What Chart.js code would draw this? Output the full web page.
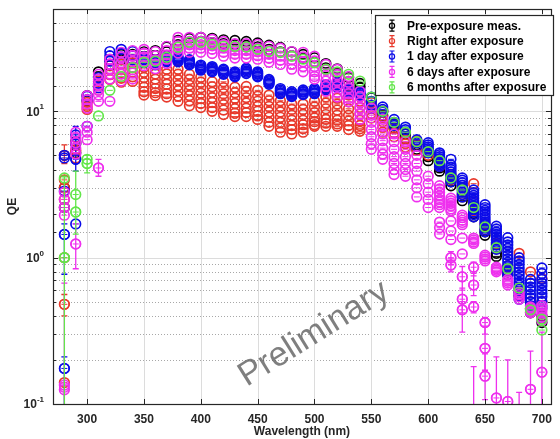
<!DOCTYPE html>
<html>
<head>
<meta charset="utf-8">
<title>QE vs wavelength</title>
<script src="https://cdn.jsdelivr.net/npm/chart.js@4.4.1/dist/chart.umd.min.js"></script>
<style>
  html, body { margin: 0; padding: 0; background: #fff; }
  #wrap { width: 560px; height: 439px; position: relative; }
</style>
</head>
<body>
<div id="wrap"><canvas id="qeChart"></canvas></div>
<script>
// Wavelengths (nm) of the measurement points
const wavelengths = [280, 290, 300, 310, 320, 330, 340, 350, 360, 370, 380, 390, 400, 410, 420,
  430, 440, 450, 460, 470, 480, 490, 500, 510, 520, 530, 540, 550, 560, 570, 580, 590, 600,
  610, 620, 630, 640, 650, 660, 670, 680, 690, 700];

const xTicks = [300, 350, 400, 450, 500, 550, 600, 650, 700];

// QE readings, one list of repeated measurements per wavelength
const preExposure = [
  [3.0, 2.2], [6.2, 5.2], [12.8, 11.8], [18.6, 17.2], [22.5, 20.5], [24.5, 22.5], [24.5, 22.5],
  [25.5, 23.5], [26.0, 24.0], [27.5, 25.5], [30.5, 28.5], [31.5, 29.5], [32.0, 30.0], [31.5, 29.5],
  [30.8, 29.0], [30.5, 28.7], [30.0, 28.3], [29.3, 27.5], [28.3, 26.5], [27.3, 25.5], [25.5, 24.0],
  [24.5, 23.0], [23.2, 21.8], [21.2, 19.8], [19.5, 18.2], [17.0, 16.0], [15.5, 14.6], [12.4, 11.6],
  [10.0, 9.4], [8.2, 7.7], [7.0, 6.5], [5.9, 5.5], [4.9, 4.6], [4.1, 3.9], [3.3, 3.1], [2.6, 2.45],
  [2.0, 1.9], [1.5, 1.42], [1.07, 1.02], [0.8, 0.76], [0.58, 0.55], [0.45, 0.42], [0.4, 0.36]
];

const rightAfter = [
  [5.0, 3.4, 3.0, 2.5, 1.0, 0.48, 0.14], [6.0, 5.4, 4.8], [11.5, 10.8, 10.3], [16.0, 15.0, 14.0],
  [21.0, 19.3, 17.8, 16.5], [21.0, 19.5, 18.0, 16.8, 15.8], [21.5, 20.0, 18.5, 17.2, 16.0],
  [20.0, 18.5, 17.0, 15.7, 14.6, 13.6, 12.9], [19.4, 18.0, 16.6, 15.4, 14.3, 13.4, 12.8],
  [19.4, 18.0, 16.5, 15.3, 14.2, 13.2, 12.5], [19.4, 17.9, 16.4, 15.0, 13.8, 12.7, 11.7],
  [17.9, 16.5, 15.1, 13.9, 12.8, 11.8, 10.9], [17.1, 15.8, 14.5, 13.3, 12.2, 11.3, 10.6],
  [15.9, 14.7, 13.5, 12.4, 11.5, 10.6, 10.0], [15.9, 14.5, 13.2, 12.1, 11.1, 10.2, 9.5],
  [14.6, 13.4, 12.3, 11.3, 10.4, 9.7, 9.2], [14.8, 13.6, 12.4, 11.4, 10.5, 9.8, 9.2],
  [13.9, 12.7, 11.7, 10.8, 10.0, 9.3, 8.8], [12.9, 11.8, 10.8, 9.9, 9.1, 8.4, 7.9],
  [11.8, 10.8, 9.9, 9.1, 8.4, 7.7, 7.2], [11.2, 10.3, 9.4, 8.7, 8.0, 7.5, 7.0],
  [11.2, 10.3, 9.5, 8.7, 8.1, 7.6, 7.2], [11.7, 10.7, 9.8, 9.0, 8.5, 8.1, 7.9],
  [12.5, 11.4, 10.4, 9.5, 8.8, 8.3, 7.9], [12.3, 11.2, 10.2, 9.4, 8.7, 8.2, 7.9],
  [12.9, 11.6, 10.4, 9.4, 8.6, 8.0, 7.5], [11.7, 10.6, 9.6, 8.7, 8.0, 7.6, 7.3],
  [11.5, 10.6, 9.7, 9.0], [10.0, 9.2, 8.5, 7.8, 7.2], [7.6, 7.1, 6.7], [6.4, 6.0, 5.7],
  [6.3, 5.8, 5.4], [5.3, 5.0], [4.5, 4.2], [3.7, 3.4], [3.0, 2.7], [3.2, 2.4, 2.1],
  [1.7, 1.55], [1.25, 1.15], [0.88, 0.8], [1.07, 0.62], [0.8, 0.5, 0.45], [0.72, 0.5]
];

const oneDay = [
  [5.0, 4.8, 2.85, 1.44, 0.175], [6.9, 6.0, 4.7, 1.7], [12.7, 12.0, 7.9], [17.0, 15.5, 14.5],
  [25.6, 24.0, 22.0], [26.5, 25.0, 23.5], [25.6, 24.0, 22.5],
  [23.5, 23.0, 22.5, 22.0, 21.5], [22.5, 22.0, 21.6, 21.2, 20.8], [23.6, 23.1, 22.7, 22.2, 21.8],
  [23.6, 23.1, 22.7, 22.2, 21.8], [22.5, 22.0, 21.6, 21.2, 20.8], [20.7, 20.3, 19.9, 19.5, 19.1],
  [20.2, 19.8, 19.4, 19.0, 18.6], [19.4, 19.0, 18.6, 18.2, 17.9], [18.6, 18.2, 17.9, 17.5, 17.2],
  [19.7, 19.3, 18.9, 18.5, 18.1], [18.6, 18.2, 17.9, 17.5, 17.2], [16.5, 16.2, 15.9, 15.6, 15.3],
  [14.3, 14.0, 13.7, 13.4, 13.2], [13.6, 13.3, 13.1, 12.8, 12.6], [14.0, 13.7, 13.5, 13.2, 13.0],
  [14.3, 14.0, 13.7, 13.4, 13.2], [15.2, 14.9, 14.6, 14.3, 14.0], [15.8, 15.5, 15.2, 14.9, 14.6],
  [14.3, 14.0, 13.7, 13.4, 13.2], [13.8, 13.5, 13.3, 13.0, 12.8], [12.5, 11.7, 11.0, 10.5],
  [10.7, 10.3, 9.9], [8.8, 8.4, 8.0], [7.8, 7.5, 7.2], [6.4, 6.1, 5.8],
  [6.1, 5.9, 5.7, 5.55, 5.4, 5.3, 5.2],
  [5.2, 5.05, 4.9, 4.75, 4.6, 4.5, 4.4, 4.3, 4.2],
  [4.7, 4.3, 4.15, 4.0, 3.85, 3.7, 3.6, 3.45, 3.3],
  [3.5, 3.38, 3.25, 3.12, 3.0, 2.9, 2.8, 2.7, 2.6],
  [2.9, 2.78, 2.66, 2.55, 2.45, 2.35, 2.25, 2.15, 2.05, 1.97, 1.9],
  [2.3, 2.2, 2.1, 2.0, 1.9, 1.82, 1.75, 1.68, 1.6, 1.55, 1.5],
  [1.64, 1.57, 1.5, 1.44, 1.38, 1.32, 1.27, 1.22, 1.18, 1.14],
  [1.37, 1.28, 1.22, 1.16, 1.1, 1.04, 0.98, 0.93, 0.88, 0.84, 0.8, 0.76],
  [1.0, 0.95, 0.9, 0.85, 0.8, 0.76, 0.72, 0.68, 0.65, 0.61, 0.58, 0.55, 0.52],
  [0.71, 0.67, 0.63, 0.6, 0.56, 0.53, 0.5, 0.47, 0.44],
  [0.85, 0.78, 0.71, 0.67, 0.64, 0.6, 0.57, 0.54, 0.5, 0.47, 0.45]
];

const sixDays = [
  [2.8, 2.5, 2.2, 1.95, 0.135, 0.125], [7.2, 6.6, 6.1, 5.6, 5.1, 1.24],
  [12.8, 12.0, 11.2, 10.5, 7.9, 7.2, 6.4], [17.9, 16.5, 15.2, 14.0, 12.9, 11.7, 4.1],
  [22.7, 21.0, 19.5, 18.0, 16.6, 11.7], [25.3, 23.5, 21.5, 19.7, 18.0, 16.1],
  [26.0, 24.0, 22.0, 20.0, 18.3, 16.6], [26.5, 25.0, 23.5, 22.0, 20.5], [25.6, 24.0, 22.5, 21.0, 19.5],
  [27.8, 26.0, 24.3, 22.7, 21.2], [32.0, 30.0, 28.0, 26.5, 25.0], [32.0, 30.0, 28.5, 27.0, 25.3],
  [32.0, 30.0, 28.5, 27.0, 25.3], [31.0, 29.5, 28.0, 26.5, 24.8], [30.0, 28.5, 27.0, 25.3, 23.8],
  [29.0, 27.5, 26.0, 24.5, 23.1], [29.0, 27.5, 26.0, 24.5, 23.1], [28.7, 27.0, 25.5, 24.0, 22.7],
  [27.8, 26.0, 24.5, 23.0, 21.6], [27.0, 25.3, 23.8, 22.3, 20.9], [25.6, 24.0, 22.5, 21.0, 19.4],
  [25.3, 23.5, 21.8, 20.2, 18.6], [23.8, 22.0, 20.2, 18.6, 17.3, 16.6],
  [20.9, 19.2, 17.6, 16.1, 14.8, 13.7], [19.4, 17.8, 16.2, 14.8, 13.5, 12.5],
  [17.3, 15.8, 14.4, 13.2, 12.2, 11.6], [13.7, 12.6, 11.5, 10.5, 9.6, 8.8],
  [10.5, 9.4, 8.4, 7.5, 6.7, 6.0, 5.5], [8.8, 7.9, 7.0, 6.3, 5.6, 5.1, 4.7],
  [7.0, 6.2, 5.5, 4.9, 4.4, 4.0, 3.7], [6.2, 5.5, 4.9, 4.4, 4.0, 3.6], [5.0, 4.4, 3.9, 3.4, 3.0, 2.6],
  [3.6, 3.2, 2.8, 2.5, 2.2],
  [3.1, 2.95, 2.8, 2.65, 2.5, 2.4, 2.3, 2.2, 1.75, 1.6, 1.45],
  [2.55, 2.45, 2.35, 2.25, 2.15, 2.08, 1.78, 1.52, 1.33, 1.0, 0.89],
  [1.95, 1.88, 1.8, 1.74, 1.68, 1.36, 1.06, 0.74, 0.52, 0.44],
  [1.36, 1.32, 1.28, 1.25, 0.86, 0.65, 0.46],
  [1.04, 1.01, 0.98, 0.95, 0.36, 0.24, 0.155],
  [0.86, 0.84, 0.82, 0.8, 0.11],
  [0.71, 0.69, 0.67, 0.65, 0.104],
  [0.58, 0.56, 0.54, 0.52],
  [0.46, 0.45, 0.43, 0.42, 0.126],
  [0.47, 0.45, 0.43, 0.41, 0.39, 0.37, 0.165]
];

const sixMonths = [
  [3.5, 1.0], [2.7, 2.05], [4.7, 4.4], [9.3], [13.9], [17.3], [19.9], [21.6], [22.0], [23.4],
  [27.4], [29.6], [29.6], [28.7], [27.8], [27.8], [27.5], [26.5], [25.6], [25.3], [23.8], [22.7],
  [21.5], [19.4], [18.6], [17.9], [16.1], [12.5], [10.0], [8.4], [7.2], [6.2], [5.3], [4.6], [3.5],
  [2.9], [2.2], [1.62], [1.17], [0.84], [0.62], [0.44], [0.38, 0.32]
];

// Visible error bars: [wavelength, value, low, high]
const rightAfterErr = [[280, 5.0, 4.4, 5.9], [280, 0.48, 0.4, 0.56], [290, 5.4, 4.8, 6.2]];
const oneDayErr = [[280, 0.175, 0.02, 0.21], [280, 1.44, 0.77, 1.7], [290, 4.7, 3.9, 7.9]];
const sixDaysErr = [
  [280, 0.13, 0.02, 0.67], [290, 1.24, 0.84, 1.7], [310, 4.1, 3.6, 4.7],
  [620, 1.0, 0.9, 1.1], [620, 0.89, 0.8, 0.98], [630, 0.74, 0.6, 0.87], [630, 0.52, 0.42, 0.62],
  [630, 0.44, 0.31, 0.5], [640, 0.86, 0.75, 0.93], [640, 0.65, 0.55, 0.78], [640, 0.46, 0.42, 0.5],
  [640, 0.08, 0.02, 0.18], [650, 0.36, 0.3, 0.39], [650, 0.24, 0.17, 0.34], [650, 0.155, 0.107, 0.22],
  [660, 0.11, 0.02, 0.21], [670, 0.104, 0.02, 0.2], [680, 0.07, 0.02, 0.12],
  [690, 0.126, 0.02, 0.23], [700, 0.165, 0.02, 0.31]
];
const sixMonthsErr = [[280, 1.0, 0.02, 3.6], [290, 2.05, 1.45, 3.9], [300, 4.4, 3.8, 5.0]];

const seriesNames = ['Pre-exposure meas.', 'Right after exposure', '1 day after exposure',
  '6 days after exposure', '6 months after exposure'];
const seriesColors = ['#000000', '#e8392b', '#0b0be8', '#ee30ee', '#62e64a'];

const FONT = "'Liberation Sans', Arial, Helvetica, sans-serif";

function toPoints(series) {
  const pts = [];
  series.forEach((vals, i) => vals.forEach(v => pts.push({ x: wavelengths[i], y: v })));
  return pts;
}

const allSeries = [preExposure, rightAfter, oneDay, sixDays, sixMonths];
const allErr = [[], rightAfterErr, oneDayErr, sixDaysErr, sixMonthsErr];

// first dataset is drawn on top in Chart.js, so order is set to keep MATLAB's stacking
const datasets = allSeries.map((s, k) => ({
  label: seriesNames[k],
  data: toPoints(s),
  errBars: allErr[k],
  order: 5 - k,
  borderColor: seriesColors[k],
  backgroundColor: 'rgba(0,0,0,0)',
  pointRadius: 4.8,
  pointBorderWidth: 1.7,
  pointStyle: 'circle',
  clip: 0
}));

// grid, inward ticks and box, MATLAB style
const gridPlugin = {
  id: 'gridPlugin',
  beforeDatasetsDraw(chart) {
    const { ctx, chartArea: a, scales: { x, y } } = chart;
    ctx.save();
    ctx.lineWidth = 1;
    y.ticks.forEach(t => {
      const py = Math.round(y.getPixelForValue(t.value)) + 0.5;
      const lg = Math.log10(t.value);
      const major = Math.abs(lg - Math.round(lg)) < 1e-6;
      if (py <= a.top + 1 || py >= a.bottom - 1) return;
      ctx.beginPath();
      if (major) {
        ctx.setLineDash([]);
        ctx.strokeStyle = '#dcdcdc';
      } else {
        ctx.setLineDash([1, 2]);
        ctx.strokeStyle = '#a8a8a8';
      }
      ctx.moveTo(a.left, py);
      ctx.lineTo(a.right, py);
      ctx.stroke();
    });
    ctx.setLineDash([]);
    ctx.strokeStyle = '#dcdcdc';
    x.ticks.forEach(t => {
      const px = Math.round(x.getPixelForValue(t.value)) + 0.5;
      ctx.beginPath();
      ctx.moveTo(px, a.top);
      ctx.lineTo(px, a.bottom);
      ctx.stroke();
    });
    ctx.restore();
  },
  afterDatasetsDraw(chart) {
    const { ctx, chartArea: a, scales: { x, y } } = chart;
    ctx.save();
    ctx.strokeStyle = '#262626';
    ctx.lineWidth = 1;
    y.ticks.forEach(t => {
      const py = Math.round(y.getPixelForValue(t.value)) + 0.5;
      const lg = Math.log10(t.value);
      const len = Math.abs(lg - Math.round(lg)) < 1e-6 ? 5 : 3;
      ctx.beginPath();
      ctx.moveTo(a.left, py); ctx.lineTo(a.left + len, py);
      ctx.moveTo(a.right, py); ctx.lineTo(a.right - len, py);
      ctx.stroke();
    });
    x.ticks.forEach(t => {
      const px = Math.round(x.getPixelForValue(t.value)) + 0.5;
      ctx.beginPath();
      ctx.moveTo(px, a.bottom); ctx.lineTo(px, a.bottom - 5);
      ctx.moveTo(px, a.top); ctx.lineTo(px, a.top + 5);
      ctx.stroke();
    });
    ctx.lineWidth = 1.2;
    ctx.strokeRect(Math.round(a.left) + 0.5, Math.round(a.top) + 0.5,
      Math.round(a.right - a.left), Math.round(a.bottom - a.top));
    ctx.restore();
  }
};

// error bars: tiny caps through each marker plus the visible long ones
const errorBarPlugin = {
  id: 'errorBarPlugin',
  afterDatasetDraw(chart, args) {
    const ds = chart.data.datasets[args.index];
    const { ctx, chartArea: a, scales: { x, y } } = chart;
    ctx.save();
    ctx.beginPath();
    ctx.rect(a.left, a.top, a.right - a.left, a.bottom - a.top);
    ctx.clip();
    ctx.strokeStyle = ds.borderColor;
    ctx.lineWidth = 1;
    ctx.beginPath();
    ds.data.forEach(p => {
      const px = x.getPixelForValue(p.x), py = y.getPixelForValue(p.y);
      ctx.moveTo(px - 3, py); ctx.lineTo(px + 3, py);
    });
    ctx.stroke();
    ctx.lineWidth = 1.3;
    ds.errBars.forEach(([w, v, lo, hi]) => {
      const px = x.getPixelForValue(w);
      const pLo = y.getPixelForValue(lo), pHi = y.getPixelForValue(hi);
      ctx.beginPath();
      ctx.moveTo(px, pLo); ctx.lineTo(px, pHi);
      ctx.moveTo(px - 3, pLo); ctx.lineTo(px + 3, pLo);
      ctx.moveTo(px - 3, pHi); ctx.lineTo(px + 3, pHi);
      ctx.stroke();
      ctx.beginPath();
      ctx.arc(px, y.getPixelForValue(v), 4.8, 0, Math.PI * 2);
      ctx.stroke();
    });
    ctx.restore();
  }
};

// y tick labels as 10^n, legend box and watermark
const overlayPlugin = {
  id: 'overlayPlugin',
  afterDraw(chart) {
    const { ctx, scales: { y } } = chart;
    ctx.save();
    ctx.fillStyle = '#262626';
    ctx.textBaseline = 'middle';
    [-1, 0, 1].forEach(e => {
      const py = y.getPixelForValue(Math.pow(10, e));
      const exp = String(e);
      ctx.font = 'bold 8px ' + FONT;
      const we = ctx.measureText(exp).width;
      ctx.font = 'bold 12px ' + FONT;
      const wb = ctx.measureText('10').width;
      const right = 44;
      ctx.fillText('10', right - we - wb, py + 1);
      ctx.font = 'bold 8px ' + FONT;
      ctx.fillText(exp, right - we, py - 4);
    });

    // legend
    const lx = 375.5, ly = 15.5, lw = 178, lh = 80;
    ctx.fillStyle = '#ffffff';
    ctx.fillRect(lx, ly, lw, lh);
    ctx.strokeStyle = '#262626';
    ctx.lineWidth = 1.2;
    ctx.strokeRect(lx, ly, lw, lh);
    seriesNames.forEach((name, k) => {
      const cy = 25.7 + k * 15.4;
      const cx = 392;
      ctx.strokeStyle = seriesColors[k];
      ctx.lineWidth = 1.2;
      ctx.beginPath();
      ctx.moveTo(cx, cy - 5.5); ctx.lineTo(cx, cy + 5.5);
      ctx.moveTo(cx - 2.5, cy - 5.5); ctx.lineTo(cx + 2.5, cy - 5.5);
      ctx.moveTo(cx - 2.5, cy + 5.5); ctx.lineTo(cx + 2.5, cy + 5.5);
      ctx.stroke();
      ctx.beginPath();
      ctx.arc(cx, cy, 2.6, 0, Math.PI * 2);
      ctx.stroke();
      ctx.fillStyle = '#000000';
      ctx.font = 'bold 12px ' + FONT;
      ctx.textAlign = 'left';
      ctx.fillText(name, 407, cy + 0.5);
    });

    // watermark
    ctx.translate(314, 334);
    ctx.rotate(-32 * Math.PI / 180);
    ctx.font = '34px ' + FONT;
    ctx.fillStyle = 'rgba(95, 95, 95, 0.8)';
    ctx.textAlign = 'center';
    ctx.textBaseline = 'middle';
    ctx.fillText('Preliminary', 0, 0);
    ctx.restore();
  }
};

new Chart(document.getElementById('qeChart'), {
  type: 'scatter',
  data: { datasets },
  plugins: [gridPlugin, errorBarPlugin, overlayPlugin],
  options: {
    responsive: true,
    maintainAspectRatio: false,
    devicePixelRatio: 1,
    animation: false,
    events: [],
    layout: { padding: { top: 9, right: 4, left: 0, bottom: 0 } },
    plugins: { legend: { display: false }, tooltip: { enabled: false } },
    scales: {
      x: {
        type: 'linear',
        min: 270,
        max: 708,
        afterBuildTicks: s => { s.ticks = xTicks.map(v => ({ value: v })); },
        afterFit: s => { s.height = 35; },
        grid: { display: false, drawTicks: false },
        border: { display: false },
        ticks: { padding: 8, color: '#262626', font: { family: FONT, size: 12, weight: 'bold' } },
        title: { display: true, text: 'Wavelength (nm)', color: '#262626', padding: { top: 0, bottom: 0 },
          font: { family: FONT, size: 12, weight: 'bold' } }
      },
      y: {
        type: 'logarithmic',
        min: 0.1,
        max: 50,
        afterFit: s => { s.width = 53; },
        grid: { display: false, drawTicks: false },
        border: { display: false },
        ticks: { display: false },
        title: { display: true, text: 'QE', color: '#262626', padding: { top: 5, bottom: 0 },
          font: { family: FONT, size: 12, weight: 'bold' } }
      }
    }
  }
});
</script>
</body>
</html>
